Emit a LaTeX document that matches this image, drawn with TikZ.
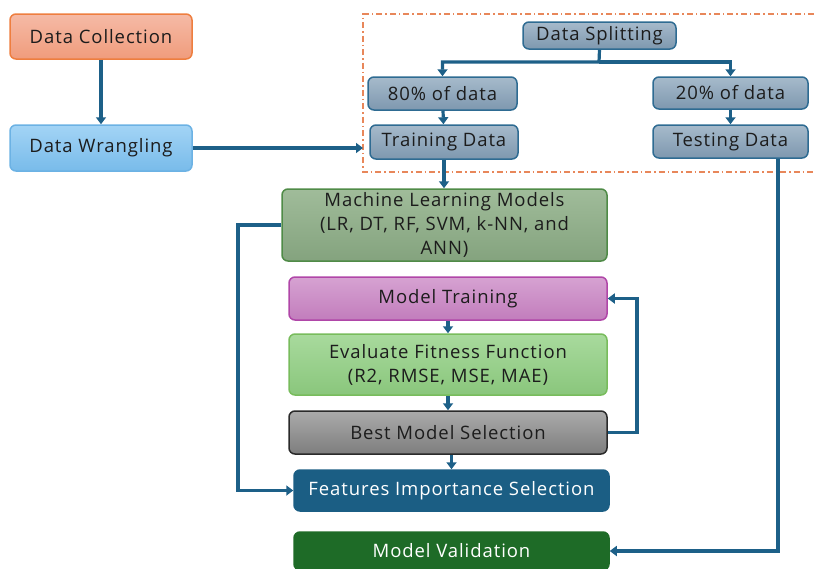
\documentclass[tikz,border=0pt]{standalone}
\usepackage{fontspec}
\setmainfont[LetterSpace=5]{Open Sans}
\usetikzlibrary{arrows.meta,calc}

\definecolor{flow}{HTML}{1D6088}
\definecolor{collTop}{HTML}{F5BAA6}
\definecolor{collBot}{HTML}{F09C7C}
\definecolor{collEdge}{HTML}{EE7E3F}
\definecolor{wrTop}{HTML}{A3D4F5}
\definecolor{wrBot}{HTML}{78BBEA}
\definecolor{wrEdge}{HTML}{6CB2E4}
\definecolor{spTop}{HTML}{A6BACB}
\definecolor{spBot}{HTML}{7E98AF}
\definecolor{spEdge}{HTML}{2E6B92}
\definecolor{mlTop}{HTML}{A0BC9A}
\definecolor{mlBot}{HTML}{84A37E}
\definecolor{mlEdge}{HTML}{4F8B47}
\definecolor{mtTop}{HTML}{D6A2D2}
\definecolor{mtBot}{HTML}{C27DBC}
\definecolor{mtEdge}{HTML}{B046A8}
\definecolor{evTop}{HTML}{A8DA9D}
\definecolor{evBot}{HTML}{8AC67C}
\definecolor{evEdge}{HTML}{78BC5C}
\definecolor{bmTop}{HTML}{AAAAAA}
\definecolor{bmBot}{HTML}{7E7E7E}
\definecolor{bmEdge}{HTML}{2A2A2A}
\definecolor{featFill}{HTML}{1B5E84}
\definecolor{valFill}{HTML}{1E6B27}
\definecolor{splitFrame}{HTML}{E8875A}
\definecolor{ink}{HTML}{1C1C1C}

\tikzset{
  box/.style={rectangle, rounded corners=6pt, line width=1.5pt, align=center,
    inner sep=1pt, font=\fontsize{18.5}{24}\selectfont, text=ink},
  shade/.style n args={3}{box, top color=#1, bottom color=#2, draw=#3},
  flowline/.style={draw=flow, line width=3.2pt},
  flowarrow/.style={flowline, -{Triangle[length=7pt,width=10pt]}},
  frame/.style={draw=splitFrame, line width=1.4pt,
    dash pattern=on 6pt off 3pt on 1.5pt off 3pt}
}

\begin{document}
\begin{tikzpicture}[x=1pt,y=-1pt]
\useasboundingbox (0,0) rectangle (814,568);

% left column
\node[shade={collTop}{collBot}{collEdge}, minimum width=182pt, minimum height=45pt]
  (coll) at (101,36.5) {Data Collection};
\node[shade={wrTop}{wrBot}{wrEdge}, minimum width=182pt, minimum height=46pt]
  (wrang) at (101,148) {Data Wrangling};

% data splitting block
\coordinate (fA) at (814,14);
\coordinate (fB) at (363,14);
\coordinate (fC) at (363,172);
\coordinate (fD) at (814,172);
\draw[frame] (fA) -- (fB) -- (fC) -- (fD);

\node[shade={spTop}{spBot}{spEdge}, minimum width=153pt, minimum height=27pt]
  (split) at (599.5,35.5) {Data Splitting};
\node[shade={spTop}{spBot}{spEdge}, minimum width=149pt, minimum height=33pt]
  (p80) at (442.5,93.5) {80\% of data};
\node[shade={spTop}{spBot}{spEdge}, minimum width=148pt, minimum height=34pt]
  (train) at (444,142) {Training Data};
\node[shade={spTop}{spBot}{spEdge}, minimum width=155pt, minimum height=32pt]
  (p20) at (730.5,93) {20\% of data};
\node[shade={spTop}{spBot}{spEdge}, minimum width=155pt, minimum height=33pt]
  (test) at (730.5,141.5) {Testing Data};

% modelling column
\node[shade={mlTop}{mlBot}{mlEdge}, minimum width=325pt, minimum height=72pt]
  (ml) at (444.5,225) {Machine Learning Models\\(LR, DT, RF, SVM, k-NN, and\\ANN)};
\node[shade={mtTop}{mtBot}{mtEdge}, minimum width=318pt, minimum height=43pt]
  (mtrain) at (448,298.5) {Model Training};
\node[shade={evTop}{evBot}{evEdge}, minimum width=318pt, minimum height=61pt]
  (eval) at (448,364.5) {Evaluate Fitness Function\\(R2, RMSE, MSE, MAE)};
\node[shade={bmTop}{bmBot}{bmEdge}, minimum width=318pt, minimum height=43pt]
  (best) at (448,432.5) {Best Model Selection};
\node[box, fill=featFill, draw=featFill, text=white, minimum width=315pt, minimum height=41pt]
  (feat) at (451.5,490.5) {Features Importance Selection};
\node[box, fill=valFill, draw=valFill, text=white, minimum width=315pt, minimum height=38pt]
  (valid) at (451.5,551) {Model Validation};

% connectors
\coordinate (fin) at (363,148);
\coordinate (fork) at (599,62);
\coordinate (leftRail) at (238,225);
\coordinate (rightRail) at (637,432.5);
\coordinate (testRail) at (778,551);

\draw[flowarrow] (coll) -- (wrang);
\draw[flowarrow] (wrang.east) -- (fin);
\draw[flowarrow] (split.south) -- (fork) -| (p80.north);
\draw[flowarrow] (fork) -| (p20.north);
\draw[flowarrow] (p80) -- (train);
\draw[flowarrow] (p20) -- (test);
\draw[flowarrow] (train) -- (train |- ml.north);
\draw[flowarrow] (ml.west) -- (leftRail) |- (feat.west);
\draw[flowarrow] (mtrain) -- (eval);
\draw[flowarrow] (eval) -- (best);
\draw[flowarrow] (best.south -| feat) -- (feat.north);
\draw[flowarrow] (best.east) -- (rightRail) |- (mtrain.east);
\draw[flowarrow] (test.south -| testRail) -- (testRail) -- (valid.east);
\end{tikzpicture}
\end{document}
